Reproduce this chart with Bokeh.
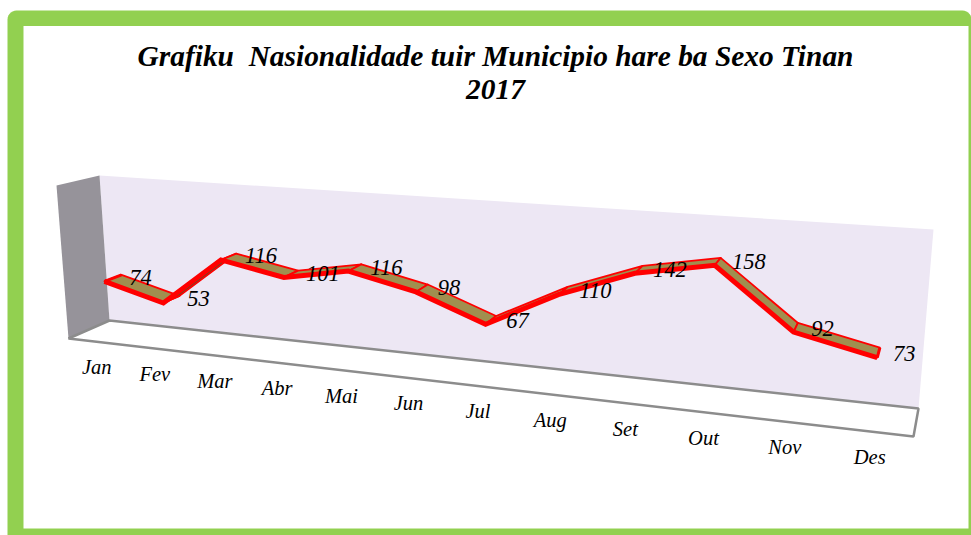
import numpy as np
from bokeh.plotting import figure
from bokeh.models import Range1d, ColumnDataSource
from bokeh.core.properties import value
from bokeh.embed import file_html
from bokeh.resources import INLINE

months = ["Jan", "Fev", "Mar", "Abr", "Mai", "Jun", "Jul", "Aug", "Set", "Out", "Nov", "Des"]
values = [74, 53, 116, 101, 116, 98, 67, 110, 142, 158, 92, 73]
title_lines = ["Grafiku \u00a0Nasionalidade tuir Municipio hare ba Sexo Tinan", "2017"]
axis_max = 200

W, H = 971, 535
SERIF = value("Liberation Serif")

# Corners of the 3D box as they appear on the page (bottom-left, bottom-right, top-right, top-left)
BACK = [(109, 320), (918, 408), (933, 229), (99, 175)]
FRONT = [(68, 338), (913, 436), (931, 246), (56, 185)]
# Nudges of the data labels away from the line, in pixels
LABEL_DX = [36, 35, 40, 39, 38, 33, 32, 37, 35, 34, 29, 27]


def homography(quad):
    src = [(0, 0), (1, 0), (1, 1), (0, 1)]
    A, b = [], []
    for (u, v), (x, y) in zip(src, quad):
        A.append([u, v, 1, 0, 0, 0, -u * x, -v * x]); b.append(x)
        A.append([0, 0, 0, u, v, 1, -u * y, -v * y]); b.append(y)
    return np.append(np.linalg.solve(np.array(A, float), np.array(b, float)), 1).reshape(3, 3)


HB, HF = homography(BACK), homography(FRONT)


def project(i, val, depth):
    """Category index, value and depth (0 = front of box, 1 = back wall) to page position."""
    u, v = (i + 0.5) / len(months), val / axis_max
    pts = []
    for M in (HF, HB):
        q = M @ np.array([u, v, 1.0])
        pts.append(q[:2] / q[2])
    return pts[0] * (1 - depth) + pts[1] * depth


D_FRONT, D_BACK = 0.29, 0.71
front = np.array([project(i, v, D_FRONT) for i, v in enumerate(values)])
back = np.array([project(i, v, D_BACK) for i, v in enumerate(values)])

p = figure(width=W, height=H, x_range=Range1d(0, W), y_range=Range1d(H, 0),
           output_backend="svg", toolbar_location=None, min_border=0,
           background_fill_color="white", border_fill_color="white", outline_line_color=None)
p.axis.visible = False
p.grid.visible = False
p.styles = {"position": "absolute", "left": "0px", "top": "0px"}

# Green frame with rounded upper corners
r = 9
a = np.linspace(0, np.pi / 2, 8)
fx = [7, 7] + list(7 + r - r * np.cos(a)) + list(W - r + r * np.sin(a)) + [W, W]
fy = [H, 10 + r] + list(10 + r - r * np.sin(a)) + list(10 + r - r * np.cos(a)) + [10 + r, H]
p.patch(fx, fy, fill_color="#92d050", line_color=None)
p.quad(left=[23], right=[968], top=[25.5], bottom=[528], fill_color="white", line_color=None)

# Walls and floor
p.patch([c[0] for c in BACK], [c[1] for c in BACK], fill_color="#ede7f4", line_color=None)
lw = [FRONT[3], BACK[3], BACK[0], FRONT[0]]
p.patch([c[0] for c in lw], [c[1] for c in lw], fill_color="#96939a", line_color=None)
fl = [FRONT[0], BACK[0], BACK[1], FRONT[1]]
p.patch([c[0] for c in fl], [c[1] for c in fl], fill_color="white", line_color="#8c8c8c", line_width=2.5)

# Ribbon
for k in range(len(values) - 1):
    q = np.array([front[k], front[k + 1], back[k + 1], back[k]])
    area = 0.5 * np.sum(q[:, 0] * np.roll(q[:, 1], -1) - np.roll(q[:, 0], -1) * q[:, 1])
    p.patch(q[:, 0], q[:, 1], fill_color="#a08f4f" if area < 0 else "#5f5228",
            line_color="#ff0000", line_width=1.8, line_join="round")
# end caps
for k in (0, len(values) - 1):
    p.line([front[k][0], back[k][0]], [front[k][1], back[k][1]], line_color="#ff0000", line_width=3)
p.line(front[:, 0], front[:, 1], line_color="#ff0000", line_width=5, line_join="miter")

# Data labels
src = ColumnDataSource(dict(x=front[:, 0] + np.array(LABEL_DX), y=front[:, 1], t=[str(v) for v in values]))
p.text("x", "y", "t", source=src, y_offset=-4, text_align="center", text_baseline="middle",
       text_font=SERIF, text_font_style="italic", text_font_size="22.5px", text_color="#000000")

# Category labels
base = np.array([project(i, 0, 0) for i in range(len(months))])
src2 = ColumnDataSource(dict(x=base[:, 0], y=base[:, 1], t=months))
p.text("x", "y", "t", source=src2, x_offset=0, y_offset=25.5, text_align="center", text_baseline="middle",
       text_font=SERIF, text_font_style="italic", text_font_size="20.5px", text_color="#000000")

# Title
p.text([495, 495], [55, 89], title_lines, text_align="center", text_baseline="middle",
       text_font=SERIF, text_font_style="bold italic", text_font_size="29.4px", text_color="#000000")

open("out.html", "w").write(file_html(p, INLINE))
